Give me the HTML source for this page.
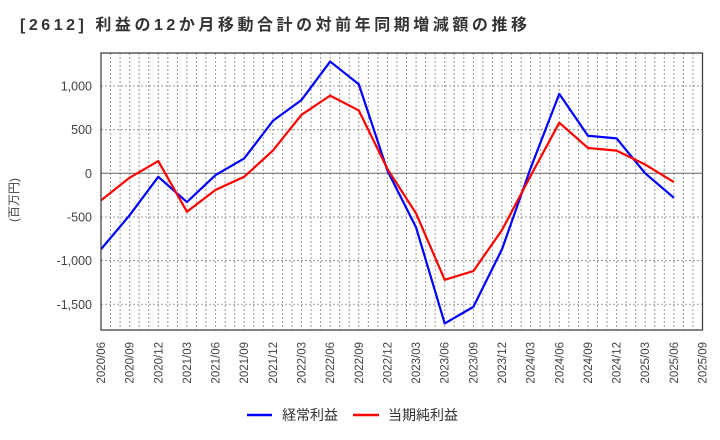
<!DOCTYPE html>
<html><head><meta charset="utf-8"><style>
body{margin:0;background:#fff;}
svg{display:block;font-family:"Liberation Sans","Noto Sans CJK JP",sans-serif;}
</style></head><body>
<svg id="c" width="720" height="440">
<text x="20" y="30" font-size="16" font-weight="bold" fill="#333" textLength="507" lengthAdjust="spacing">[2612]  利益の12か月移動合計の対前年同期増減額の推移</text>
<text transform="translate(18,200) rotate(-90)" text-anchor="middle" font-size="12" fill="#444">(百万円)</text>
<g id="grid"></g><g id="series"></g><g id="labels"></g>
<rect x="101" y="53" width="601.5" height="277" fill="none" stroke="#444" stroke-width="1.3"/>
<line x1="247" y1="415" x2="272" y2="415" stroke="#0000ff" stroke-width="2.5"/>
<text x="282" y="420" font-size="14" fill="#333">経常利益</text>
<line x1="353" y1="415" x2="379" y2="415" stroke="#ff0000" stroke-width="2.5"/>
<text x="388" y="420" font-size="14" fill="#333">当期純利益</text>
</svg>
<script>
const categories=["2020/06","2020/09","2020/12","2021/03","2021/06","2021/09","2021/12","2022/03","2022/06","2022/09","2022/12","2023/03","2023/06","2023/09","2023/12","2024/03","2024/06","2024/09","2024/12","2025/03","2025/06","2025/09"];
const ordinaryProfit=[-870,-480,-40,-330,-20,170,600,840,1280,1020,30,-620,-1720,-1530,-870,60,910,430,400,0,-280];
const netProfit=[-310,-50,140,-440,-190,-40,260,670,890,720,50,-460,-1220,-1120,-650,-30,580,290,260,100,-100];
const yTicks=[-1500,-1000,-500,0,500,1000];
const yTickLabels=["-1,500","-1,000","-500","0","500","1,000"];
const NS="http://www.w3.org/2000/svg";
const L=101,R=702.5,T=53,B=330;
const months=63;
function xm(m){return L+(R-L)*m/months;}
function x(i){return xm(i*3);}
function y(v){return 173.3-v*0.0873;}
function mk(tag,attrs,parent){const e=document.createElementNS(NS,tag);for(const k in attrs)e.setAttribute(k,attrs[k]);parent.appendChild(e);return e;}
const grid=document.getElementById('grid'),ser=document.getElementById('series'),lab=document.getElementById('labels');
for(let m=1;m<months;m++){
  const g=mk('line',{x1:xm(m),x2:xm(m),y1:T,y2:B,stroke:'#999','stroke-width':1,'stroke-dasharray':'2,2'},grid);
  
  
}
yTicks.forEach((v,i)=>{
  const g=mk('line',{x1:L,x2:R,y1:y(v),y2:y(v),stroke:v===0?'#666':'#999','stroke-width':1,'stroke-dasharray':v===0?'none':'2,2'},grid);
  
  
  const t=mk('text',{x:92,y:y(v)+4.5,'text-anchor':'end','font-size':12.5,fill:'#444'},lab);
  t.textContent=yTickLabels[i];
  
  
});
categories.forEach((c,i)=>{
  const t=mk('text',{transform:`translate(${x(i)+4},342) rotate(-90)`,'text-anchor':'end','font-size':11.5,fill:'#444'},lab);
  t.textContent=c;
  
  
});
function line(data,color,name){
  const p=mk('polyline',{points:data.map((v,i)=>x(i)+','+y(v)).join(' '),fill:'none',stroke:color,'stroke-width':2.2,'stroke-linejoin':'round'},ser);
  
  
}
line(ordinaryProfit,'#0000ff','ordinary-profit-line');
line(netProfit,'#ff0000','net-profit-line');
</script>
</body></html>
